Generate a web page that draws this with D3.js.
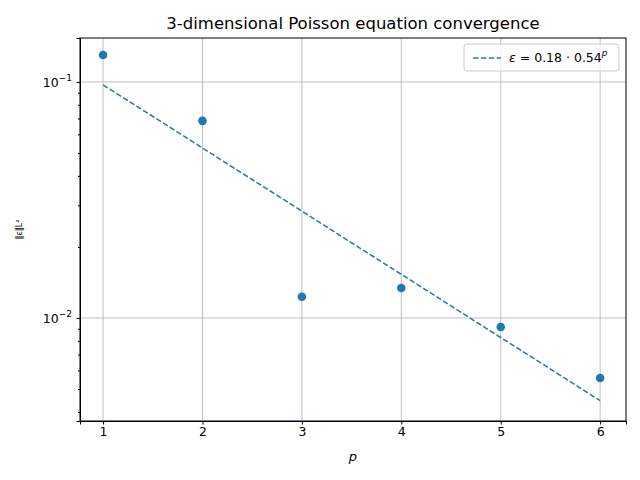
<!DOCTYPE html>
<html><head><meta charset="utf-8">
<script src="https://cdn.jsdelivr.net/npm/d3@7"></script>
<style>body{margin:0;background:#fff}text{font-family:"DejaVu Sans",sans-serif}</style>
</head><body>
<svg id="chart" width="640" height="480"></svg>
<script>
// data
const pValues = [1, 2, 3, 4, 5, 6];
const errValues = [0.130, 0.0684, 0.0123, 0.0134, 0.00916, 0.00557];
const fitA = 0.18, fitB = 0.54;
const xTicks = [1, 2, 3, 4, 5, 6];
const yTicks = [0.01, 0.1];

const svg = d3.select("#chart");
const mL = 80, mR = 626, mT = 38, mB = 421;
const x = d3.scaleLinear().domain([0.768, 6.26]).range([mL, mR]);
const y = d3.scaleLog().domain([0.00366, 0.1535]).range([mB, mT]);
const blue = "#1f77b4";

// grid
svg.append("g").selectAll("line").data(xTicks).join("line")
    .attr("x1", d => x(d)).attr("x2", d => x(d)).attr("y1", mT).attr("y2", mB)
    .attr("stroke", "#b0b0b0").attr("stroke-width", 0.8);
svg.append("g").selectAll("line").data(yTicks).join("line")
    .attr("y1", d => y(d)).attr("y2", d => y(d)).attr("x1", mL).attr("x2", mR)
    .attr("stroke", "#b0b0b0").attr("stroke-width", 0.8);

// fit line
const fitPts = pValues.map(p => ({p, v: fitA * Math.pow(fitB, p)}));
svg.append("path").datum(fitPts)
    .attr("fill", "none").attr("stroke", blue).attr("stroke-width", 1.5)
    .attr("stroke-dasharray", "5.5,2.4")
    .attr("d", d3.line().x(d => x(d.p)).y(d => y(d.v)));

// points
svg.append("g").selectAll("circle").data(pValues).join("circle")
    .attr("cx", d => x(d)).attr("cy", (d, i) => y(errValues[i]))
    .attr("r", 4.3).attr("fill", blue);

// axes
const xAxis = svg.append("g").attr("transform", `translate(0,${mB})`)
    .call(d3.axisBottom(x).tickValues(xTicks).tickFormat(d3.format("d")).tickSizeOuter(0).tickSize(3.5));
const minor = [];
for (const e of [0.001, 0.01]) for (let k = 2; k <= 9; k++) minor.push(e * k);
svg.append("g").attr("transform", `translate(${mL},0)`)
    .call(d3.axisLeft(y).tickValues(yTicks).tickFormat(() => "").tickSizeOuter(0).tickSize(3.5));
svg.append("g").attr("transform", `translate(${mL},0)`)
    .call(d3.axisLeft(y).tickValues(minor.filter(v => v > 0.00366 && v < 0.1535)).tickFormat(() => "").tickSize(2))
    .call(g => g.select(".domain").remove());
yTicks.forEach(t => {
    const tx = svg.append("text").attr("x", mL - 8).attr("y", y(t) + 5)
        .attr("text-anchor", "end").attr("font-size", 12.5);
    tx.append("tspan").text("10");
    tx.append("tspan").attr("dy", -6).attr("font-size", 9).text("−" + Math.round(-Math.log10(t)));
});
xAxis.selectAll("text").attr("font-size", 12.5).attr("font-family", "DejaVu Sans").attr("fill", "#000");
svg.selectAll(".domain").attr("stroke", "#000");
svg.selectAll(".tick line").attr("stroke", "#000");
svg.append("rect").attr("x", mL).attr("y", mT).attr("width", mR - mL).attr("height", mB - mT)
    .attr("fill", "none").attr("stroke", "#000").attr("stroke-width", 1);

// labels
svg.append("text").attr("x", (mL + mR) / 2).attr("y", 29).attr("text-anchor", "middle")
    .attr("font-size", 16.5).text("3-dimensional Poisson equation convergence");
svg.append("text").attr("x", (mL + mR) / 2).attr("y", 461).attr("text-anchor", "middle")
    .attr("font-size", 13).attr("font-style", "italic").text("p");
svg.append("text").attr("transform", `translate(22,${(mT + mB) / 2}) rotate(-90)`)
    .attr("text-anchor", "middle").attr("font-size", 8).text("‖ε‖L²");

// legend
const lg = svg.append("g").attr("transform", "translate(464,44)");
lg.append("rect").attr("width", 155).attr("height", 27).attr("rx", 3)
    .attr("fill", "#fff").attr("fill-opacity", 0.8).attr("stroke", "#ccc");
lg.append("line").attr("x1", 9).attr("x2", 37).attr("y1", 14).attr("y2", 14)
    .attr("stroke", blue).attr("stroke-width", 1.5).attr("stroke-dasharray", "5.5,2.4");
const lt = lg.append("text").attr("x", 45).attr("y", 18).attr("font-size", 12.5);
lt.append("tspan").attr("font-style", "italic").text("ε");
lt.append("tspan").text(` = ${fitA} · ${fitB}`);
lt.append("tspan").attr("dy", -6).attr("font-size", 9).attr("font-style", "italic").text("p");
</script>
</body></html>
